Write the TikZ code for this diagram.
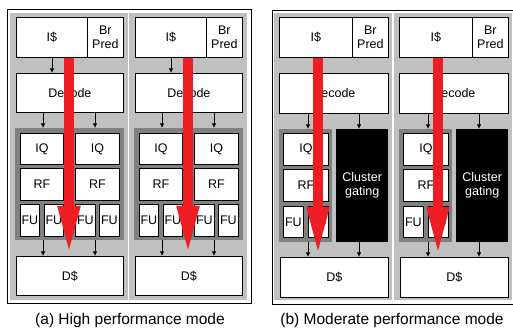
\documentclass[tikz,border=0pt]{standalone}
\usepackage{fontspec}
\setmainfont{Liberation Sans}
\usetikzlibrary{arrows.meta}

\definecolor{colgrey}{RGB}{192,192,192}
\definecolor{clugrey}{RGB}{128,128,128}
\definecolor{flowred}{RGB}{236,30,36}

\tikzset{
    unit/.style = {draw, fill=white, line width=0.8pt, inner sep=0pt,
                   anchor=north west, align=center,
                   font=\fontsize{12.5}{14}\selectfont},
    frame/.style = {fill=clugrey, inner sep=0pt, anchor=north west},
    gated/.style = {fill=black, text=white, inner sep=0pt, anchor=north west,
                    align=center, font=\fontsize{12.5}{14}\selectfont},
    arr/.style = {line width=0.9pt, -{Latex[length=4.5pt,width=4.5pt]}},
    flow/.style = {draw=flowred, line width=10pt,
                   -{Triangle[length=50pt,width=20pt]}},
    caption/.style = {font=\fontsize{15.5}{17}\selectfont}
}

\begin{document}
\begin{tikzpicture}[x = 1pt, y = -1pt]
\useasboundingbox (0,0) rectangle (513,328);

% (a) both clusters running
\draw[line width=0.8pt] (7,9) rectangle (251,303);
\foreach \c/\o in {1/0, 2/119} {
    \fill[colgrey] (10+\o,13) rectangle (128+\o,300);
    \node[unit, minimum width=71pt, minimum height=40pt] (ic-a\c) at (16+\o,17) {I\$};
    \node[unit, minimum width=36pt, minimum height=40pt] (bp-a\c) at (87+\o,17) {Br\\Pred};
    \node[unit, minimum width=107pt, minimum height=39pt] (dec-a\c) at (16+\o,73) {Decode};
    \node[frame, minimum width=109pt, minimum height=112pt] (clu-a\c) at (15+\o,128) {};
    \node[unit, minimum width=43pt, minimum height=31pt] (iql-a\c) at (20+\o,133) {IQ};
    \node[unit, minimum width=44pt, minimum height=31pt] (iqr-a\c) at (75+\o,133) {IQ};
    \node[unit, minimum width=43pt, minimum height=32pt] (rfl-a\c) at (20+\o,168) {RF};
    \node[unit, minimum width=44pt, minimum height=32pt] (rfr-a\c) at (75+\o,168) {RF};
    \node[unit, minimum width=19pt, minimum height=32pt] (fu1-a\c) at (20+\o,204) {FU};
    \node[unit, minimum width=19pt, minimum height=32pt] (fu2-a\c) at (44+\o,204) {FU};
    \node[unit, minimum width=20pt, minimum height=32pt] (fu3-a\c) at (75+\o,204) {FU};
    \node[unit, minimum width=20pt, minimum height=32pt] (fu4-a\c) at (99+\o,204) {FU};
    \node[unit, minimum width=107pt, minimum height=39pt] (dc-a\c) at (16+\o,256) {D\$};

    \draw[arr] ([xshift=36pt]ic-a\c.south west) -- ([xshift=36pt]ic-a\c.south west |- dec-a\c.north);
    \draw[arr] ([xshift=27pt]dec-a\c.south west) -- ([xshift=27pt]dec-a\c.south west |- clu-a\c.north);
    \draw[arr] ([xshift=79pt]dec-a\c.south west) -- ([xshift=79pt]dec-a\c.south west |- clu-a\c.north);
    \draw[arr] ([xshift=28pt]clu-a\c.south west) -- ([xshift=28pt]clu-a\c.south west |- dc-a\c.north);
    \draw[arr] ([xshift=80pt]clu-a\c.south west) -- ([xshift=80pt]clu-a\c.south west |- dc-a\c.north);

    % path through the core
    \draw[flow] ([xshift=53pt]ic-a\c.south west) -- ([xshift=53pt]ic-a\c.south west |- dc-a\c.north);
}
\node[caption] (cap-a) at (130,320) {(a) High performance mode};

% (b) one cluster gated off
\draw[line width=0.8pt] (272,10) rectangle (518,304);
\foreach \c/\o in {1/0, 2/120} {
    \fill[colgrey] (274+\o,13) rectangle (392+\o,300);
    \node[unit, minimum width=73pt, minimum height=40pt] (ic-b\c) at (279+\o,17) {I\$};
    \node[unit, minimum width=36pt, minimum height=40pt] (bp-b\c) at (352+\o,17) {Br\\Pred};
    \node[unit, minimum width=109pt, minimum height=40pt] (dec-b\c) at (279+\o,73) {Decode};
    \node[frame, minimum width=53pt, minimum height=113pt] (clu-b\c) at (279+\o,129) {};
    \node[gated, minimum width=52pt, minimum height=113pt] (gate-b\c) at (336+\o,129) {Cluster\\gating};
    \node[unit, minimum width=45pt, minimum height=32pt] (iq-b\c) at (283+\o,133) {IQ};
    \node[unit, minimum width=45pt, minimum height=32pt] (rf-b\c) at (283+\o,169) {RF};
    \node[unit, minimum width=20pt, minimum height=31pt] (fu1-b\c) at (283+\o,206) {FU};
    \node[unit, minimum width=20pt, minimum height=31pt] (fu2-b\c) at (308+\o,206) {FU};
    \node[unit, minimum width=108pt, minimum height=40pt] (dc-b\c) at (280+\o,257) {D\$};

    \draw[arr] ([xshift=36pt]ic-b\c.south west) -- ([xshift=36pt]ic-b\c.south west |- dec-b\c.north);
    \draw[arr] ([xshift=29pt]dec-b\c.south west) -- ([xshift=29pt]dec-b\c.south west |- clu-b\c.north);
    \draw[arr] ([xshift=80pt]dec-b\c.south west) -- ([xshift=80pt]dec-b\c.south west |- gate-b\c.north);
    \draw[arr] ([xshift=29pt]clu-b\c.south west) -- ([xshift=29pt]clu-b\c.south west |- dc-b\c.north);
    \draw[arr] ([xshift=23pt]gate-b\c.south west) -- ([xshift=23pt]gate-b\c.south west |- dc-b\c.north);

    % path through the core
    \draw[flow] ([xshift=39pt]ic-b\c.south west) -- ([xshift=39pt]ic-b\c.south west |- dc-b\c.north);
}
\node[caption] (cap-b) at (392,320) {(b) Moderate performance mode};
\end{tikzpicture}
\end{document}
